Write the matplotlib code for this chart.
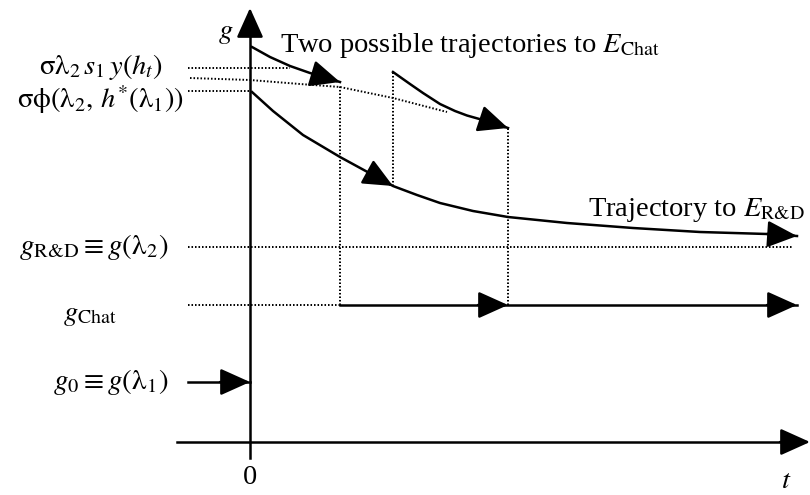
import matplotlib
matplotlib.use("Agg")
import matplotlib.pyplot as plt

plt.rcParams["font.family"] = ["Liberation Serif", "DejaVu Serif"]
plt.rcParams["mathtext.fontset"] = "stix"

# levels on the g axis (schematic units)
g0 = 0.60
g_chat = 1.37
g_rd = 1.95
g_sphi = 3.51
g_top = 3.74

# switching times on the t axis
t_switch1 = 0.90
t_switch2 = 1.43
t_switch3 = 2.58

# trajectory to E_R&D
rd_t = [0.02, 0.23, 0.53, 0.90, 1.23, 1.43, 1.67, 1.90, 2.23, 2.58,
        3.17, 3.83, 4.50, 5.17, 5.47]
rd_g = [3.50, 3.31, 3.07, 2.85, 2.67, 2.56, 2.47, 2.39, 2.31, 2.25,
        2.19, 2.14, 2.10, 2.08, 2.06]

# two trajectories to E_Chat
chat1_t = [0.02, 0.20, 0.40, 0.60, 0.75, 0.90]
chat1_g = [3.95, 3.85, 3.76, 3.69, 3.645, 3.60]
chat2_t = [1.43, 1.60, 1.73, 1.90, 2.05, 2.17, 2.40, 2.58]
chat2_g = [3.70, 3.58, 3.49, 3.38, 3.31, 3.265, 3.20, 3.14]

# dotted locus between the two E_Chat trajectories
locus_t = [-0.60, 0.00, 0.50, 0.90, 1.43, 1.97]
locus_g = [3.64, 3.62, 3.58, 3.55, 3.44, 3.30]

RD = r"\mathrm{R&D}"
SIG = r"\mathrm{\sigma}"
LAM = r"\mathrm{\lambda}"
PHI = r"\mathrm{\phi}"
X_LEFT = -0.62   # where the dotted guides start
X_END = 5.47     # right end of the horizontal trajectories
FS = 20.5
LW = 1.8

fig = plt.figure(figsize=(8.1, 4.95), dpi=100)
ax = fig.add_axes([0, 0, 1, 1])
ax.set_xlim(-2.5, 5.6)
ax.set_ylim(-0.53, 4.42)
ax.axis("off")


def arrow_head(ax, tail, tip, scale=23):
    ax.annotate("", xy=tip, xytext=tail,
                arrowprops=dict(arrowstyle="-|>,head_length=0.8,head_width=0.36",
                                color="k", lw=LW, mutation_scale=scale,
                                shrinkA=0, shrinkB=0))


# axes
ax.plot([0, 0], [-0.16, 4.2], color="k", lw=LW)
arrow_head(ax, (0, 4.1), (0, 4.34))
ax.plot([-0.73, 5.4], [0, 0], color="k", lw=LW)
arrow_head(ax, (5.3, 0), (5.6, 0))

# dotted guides
dot = dict(color="k", lw=1.4, ls=(0, (0.8, 1.0)))
ax.plot([X_LEFT, 0.40], [g_top, g_top], **dot)
ax.plot(locus_t, locus_g, **dot)
ax.plot([X_LEFT, 0], [g_sphi, g_sphi], **dot)
ax.plot([X_LEFT, X_END - 0.05], [g_rd, g_rd], **dot)
ax.plot([X_LEFT, t_switch1], [g_chat, g_chat], **dot)
ax.plot([t_switch1, t_switch1], [g_chat, chat1_g[-1] - 0.03], **dot)
ax.plot([t_switch2, t_switch2], [rd_g[5], chat2_g[0]], **dot)
ax.plot([t_switch3, t_switch3], [g_chat, chat2_g[-1]], **dot)

# trajectory to E_R&D, with a mid arrow at the second switch
ax.plot(rd_t, rd_g, color="k", lw=LW)
arrow_head(ax, (rd_t[4], rd_g[4]), (rd_t[5], rd_g[5]))
arrow_head(ax, (rd_t[-2], rd_g[-2]), (rd_t[-1], rd_g[-1]))

# trajectories to E_Chat
ax.plot(chat1_t, chat1_g, color="k", lw=LW)
arrow_head(ax, (chat1_t[-2], chat1_g[-2]), (chat1_t[-1], chat1_g[-1]))
ax.plot(chat2_t, chat2_g, color="k", lw=LW)
arrow_head(ax, (chat2_t[-2], chat2_g[-2]), (chat2_t[-1], chat2_g[-1]))

# steady state at g_Chat
ax.plot([t_switch1, X_END], [g_chat, g_chat], color="k", lw=LW)
arrow_head(ax, (t_switch3 - 0.3, g_chat), (t_switch3, g_chat))
arrow_head(ax, (X_END - 0.3, g_chat), (X_END, g_chat))

# initial level g0
ax.plot([X_LEFT, 0], [g0, g0], color="k", lw=LW)
arrow_head(ax, (-0.3, g0), (0, g0))

# labels
ax.text(-0.24, 4.08, "$g$", fontsize=FS, ha="center", va="center")
ax.text(0, -0.36, "0", fontsize=FS, ha="center", va="center")
ax.text(5.36, -0.40, "$t$", fontsize=FS, ha="center", va="center")
ax.text(0.30, 3.97, r"Two possible trajectories to $E_{\mathrm{Chat}}$",
        fontsize=FS, ha="left", va="center")
ax.text(5.55, 2.32, r"Trajectory to $E_{%s}$" % RD,
        fontsize=FS, ha="right", va="center")
ax.text(-0.87, 3.75, r"$%s%s_2\, s_1\, y(h_t)$" % (SIG, LAM),
        fontsize=FS, ha="right", va="center")
ax.text(-0.66, 3.42, r"$%s%s(%s_2,\, h^{*}(%s_1))$" % (SIG, PHI, LAM, LAM),
        fontsize=FS, ha="right", va="center")
ax.text(-0.82, g_rd, r"$g_{%s} \equiv g(%s_2)$" % (RD, LAM),
        fontsize=FS + 0.5, ha="right", va="center")
ax.text(-1.60, g_chat - 0.11, r"$g_{\mathrm{Chat}}$",
        fontsize=FS, ha="center", va="center")
ax.text(-0.82, g0, r"$g_0 \equiv g(%s_1)$" % LAM,
        fontsize=FS + 0.5, ha="right", va="center")

fig.savefig("out.png", dpi=100)
